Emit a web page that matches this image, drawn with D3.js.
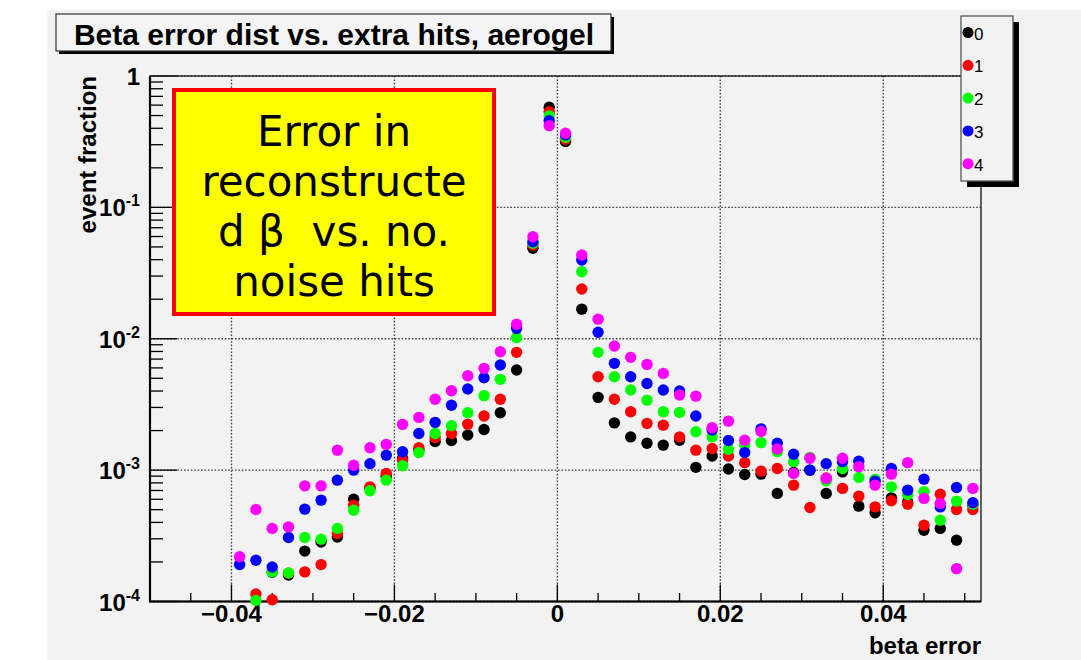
<!DOCTYPE html>
<html>
<head>
<meta charset="utf-8">
<script src="https://cdn.jsdelivr.net/npm/d3@7"></script>
<style>
  html, body { margin: 0; padding: 0; background: #fff; }
  svg { display: block; }
  text { font-family: "Liberation Sans", Arial, sans-serif; }
  text.note { font-family: "DejaVu Sans", sans-serif; white-space: pre; }
</style>
</head>
<body>
<div id="chart"></div>
<script>
// bin centres of the beta error histogram
const binCenters = [-0.039, -0.037, -0.035, -0.033, -0.031, -0.029, -0.027, -0.025, -0.023, -0.021,
    -0.019, -0.017, -0.015, -0.013, -0.011, -0.009, -0.007, -0.005, -0.003, -0.001,
    0.001, 0.003, 0.005, 0.007, 0.009, 0.011, 0.013, 0.015, 0.017, 0.019,
    0.021, 0.023, 0.025, 0.027, 0.029, 0.031, 0.033, 0.035, 0.037, 0.039,
    0.041, 0.043, 0.045, 0.047, 0.049, 0.051];

// event fraction per bin, one array per number of extra hits
const hits0 = [null, null, 1.67e-4, 1.59e-4, 2.42e-4, 2.84e-4, 3.1e-4, 6.0e-4, 7.3e-4, 9.0e-4,
    1.23e-3, 1.42e-3, 1.65e-3, 1.68e-3, 1.85e-3, 2.04e-3, 2.73e-3, 5.78e-3, 4.88e-2, 0.578,
    0.317, 1.68e-2, 3.58e-3, 2.29e-3, 1.79e-3, 1.60e-3, 1.55e-3, 1.69e-3, 1.05e-3, 1.28e-3,
    1.02e-3, 9.27e-4, 9.32e-4, 6.65e-4, 9.6e-4, 1.0e-3, 6.65e-4, 9.7e-4, 5.32e-4, 4.73e-4,
    6.15e-4, 5.7e-4, 3.49e-4, 3.6e-4, 2.93e-4, 5.4e-4];
const hits1 = [null, 1.14e-4, 1.03e-4, 1.64e-4, 1.68e-4, 1.91e-4, 3.30e-4, 5.41e-4, 7.46e-4, 9.44e-4,
    1.19e-3, 1.48e-3, 1.77e-3, 1.90e-3, 2.24e-3, 2.58e-3, 3.46e-3, 7.88e-3, 5.17e-2, 0.535,
    0.330, 2.39e-2, 5.14e-3, 3.46e-3, 2.78e-3, 2.27e-3, 2.20e-3, 1.79e-3, 1.42e-3, 1.46e-3,
    1.28e-3, 1.14e-3, 9.83e-4, 1.03e-3, 7.69e-4, 5.2e-4, 8.7e-4, 7.26e-4, 6.34e-4, 5.25e-4,
    5.84e-4, 5.51e-4, 3.81e-4, 6.56e-4, 5.02e-4, 5.02e-4];
const hits2 = [null, 1.02e-4, 1.68e-4, 1.65e-4, 3.07e-4, 2.98e-4, 3.60e-4, 4.96e-4, 6.96e-4, 8.39e-4,
    1.08e-3, 1.36e-3, 1.90e-3, 2.18e-3, 2.73e-3, 3.68e-3, 4.91e-3, 1.02e-2, 5.33e-2, 0.497,
    0.342, 3.24e-2, 7.88e-3, 5.14e-3, 4.07e-3, 3.41e-3, 2.78e-3, 2.75e-3, 1.96e-3, 1.79e-3,
    1.44e-3, 1.55e-3, 1.62e-3, 1.38e-3, 1.16e-3, 1.25e-3, 8.29e-4, 1.03e-3, 8.8e-4, 8.5e-4,
    7.46e-4, 6.53e-4, 6.84e-4, 4.16e-4, 5.81e-4, 5.5e-4];
const hits3 = [1.91e-4, 2.06e-4, 1.83e-4, 3.07e-4, 5.05e-4, 5.91e-4, 8.39e-4, 1.0e-3, 1.12e-3, 1.30e-3,
    1.38e-3, 1.90e-3, 2.31e-3, 3.12e-3, 4.14e-3, 5.05e-3, 6.31e-3, 1.20e-2, 5.48e-2, 0.457,
    0.356, 3.98e-2, 1.12e-2, 6.50e-3, 5.14e-3, 4.57e-3, 4.07e-3, 4.0e-3, 2.58e-3, 2.02e-3,
    1.68e-3, 1.36e-3, 2.06e-3, 1.60e-3, 1.32e-3, 1.0e-3, 1.12e-3, 1.16e-3, 1.17e-3, 8.24e-4,
    1.03e-3, 7.04e-4, 8.54e-4, 5.25e-4, 7.38e-4, 5.64e-4];
const hits4 = [2.19e-4, 5.02e-4, 3.60e-4, 3.70e-4, 7.59e-4, 7.59e-4, 1.42e-3, 1.09e-3, 1.48e-3, 1.57e-3,
    2.23e-3, 2.52e-3, 3.46e-3, 4.02e-3, 5.23e-3, 5.95e-3, 7.96e-3, 1.29e-2, 5.98e-2, 0.419,
    0.367, 4.34e-2, 1.41e-2, 8.80e-3, 7.22e-3, 6.38e-3, 5.45e-3, 3.73e-3, 3.66e-3, 2.10e-3,
    2.36e-3, 1.69e-3, 1.97e-3, 1.45e-3, 9.44e-4, 1.23e-3, 8.65e-4, 1.23e-3, 1.06e-3, 7.69e-4,
    9.32e-4, 1.14e-3, 6.09e-4, 5.58e-4, 1.78e-4, 7.26e-4];

const seriesNames = ['0', '1', '2', '3', '4'];
const seriesColors = ['#000000', '#ff0000', '#00ff00', '#0000ff', '#ff00ff'];

const xTickValues = [-0.04, -0.02, 0, 0.02, 0.04];
const xTickLabels = ['\u22120.04', '\u22120.02', '0', '0.02', '0.04'];
const yTickValues = [1, 0.1, 0.01, 0.001, 0.0001];
const yTickExponents = ['', '-1', '-2', '-3', '-4'];

const titleText = 'Beta error dist vs. extra hits, aerogel';
const xTitle = 'beta error';
const yTitle = 'event fraction';
const noteLines = ['Error in', 'reconstructe', 'd \u03b2  vs. no.', 'noise hits'];

(function () {
    const width = 1081;
    const height = 660;
    const frame = { left: 150, right: 981, top: 76, bottom: 601.5 };

    const svg = d3.select('#chart').append('svg')
        .attr('width', width)
        .attr('height', height);

    const xScale = d3.scaleLinear().domain([-0.05, 0.052]).range([frame.left, frame.right]);
    const yScale = d3.scaleLog().domain([1e-4, 1]).range([frame.bottom, frame.top]);

    // canvas
    svg.append('rect').attr('x', 47).attr('y', 10)
        .attr('width', width - 47).attr('height', height - 10)
        .attr('fill', '#f2f2f2');

    // grid (dotted, at major ticks)
    const grid = svg.append('g').attr('class', 'grid')
        .attr('stroke', '#444').attr('stroke-width', 1.4)
        .attr('stroke-dasharray', '1.6,1.8');
    grid.selectAll('line.gx').data(xTickValues).enter().append('line')
        .attr('x1', d => xScale(d)).attr('x2', d => xScale(d))
        .attr('y1', frame.top).attr('y2', frame.bottom);
    grid.selectAll('line.gy').data(yTickValues).enter().append('line')
        .attr('x1', frame.left).attr('x2', frame.right)
        .attr('y1', d => yScale(d)).attr('y2', d => yScale(d));

    // ticks, drawn inside the frame like ROOT does
    const ticks = svg.append('g').attr('stroke', '#000').attr('stroke-width', 1.3);
    const xMinor = d3.range(-0.045, 0.0501, 0.005).filter(v => !xTickValues.some(t => Math.abs(t - v) < 1e-6));
    ticks.selectAll('line.xmaj').data(xTickValues).enter().append('line')
        .attr('x1', d => xScale(d)).attr('x2', d => xScale(d))
        .attr('y1', frame.bottom).attr('y2', frame.bottom - 17);
    ticks.selectAll('line.xmin').data(xMinor).enter().append('line')
        .attr('x1', d => xScale(d)).attr('x2', d => xScale(d))
        .attr('y1', frame.bottom).attr('y2', frame.bottom - 8.5);

    const yMinor = [];
    [1e-4, 1e-3, 1e-2, 1e-1].forEach(dec => {
        for (let m = 2; m <= 9; m++) yMinor.push(dec * m);
    });
    ticks.selectAll('line.ymaj').data(yTickValues).enter().append('line')
        .attr('x1', frame.left).attr('x2', frame.left + 27)
        .attr('y1', d => yScale(d)).attr('y2', d => yScale(d));
    ticks.selectAll('line.ymin').data(yMinor).enter().append('line')
        .attr('x1', frame.left).attr('x2', frame.left + 13)
        .attr('y1', d => yScale(d)).attr('y2', d => yScale(d));

    // frame
    svg.append('rect')
        .attr('x', frame.left).attr('y', frame.top)
        .attr('width', frame.right - frame.left).attr('height', frame.bottom - frame.top)
        .attr('fill', 'none').attr('stroke', '#222').attr('stroke-width', 1.4);
    svg.append('path')
        .attr('d', `M${frame.left},${frame.top}V${frame.bottom}H${frame.right}`)
        .attr('fill', 'none').attr('stroke', '#000').attr('stroke-width', 2.2);

    // tick labels
    svg.append('g').selectAll('text').data(xTickValues).enter().append('text')
        .attr('x', d => xScale(d)).attr('y', 622)
        .attr('text-anchor', 'middle')
        .attr('font-size', 24).attr('font-weight', 'bold')
        .text((d, i) => xTickLabels[i]);

    const yLab = svg.append('g').selectAll('text').data(yTickValues).enter().append('text')
        .attr('x', 140).attr('y', d => yScale(d) + 9)
        .attr('text-anchor', 'end')
        .attr('font-size', 24).attr('font-weight', 'bold');
    yLab.each(function (d, i) {
        const t = d3.select(this);
        if (yTickExponents[i] === '') {
            t.text('1');
        } else {
            t.append('tspan').text('10');
            t.append('tspan').attr('dy', -10).attr('font-size', 16).text(yTickExponents[i]);
        }
    });

    // axis titles
    svg.append('text')
        .attr('x', frame.right).attr('y', 654)
        .attr('text-anchor', 'end')
        .attr('font-size', 24).attr('font-weight', 'bold')
        .text(xTitle);
    svg.append('text')
        .attr('transform', `translate(96,${frame.top}) rotate(-90)`)
        .attr('text-anchor', 'end')
        .attr('font-size', 24).attr('font-weight', 'bold')
        .text(yTitle);

    // markers: series 0 first, higher hit counts drawn on top
    const series = [hits0, hits1, hits2, hits3, hits4];
    const pointsLayer = svg.append('g').attr('class', 'points');
    series.forEach((vals, s) => {
        const pts = binCenters.map((x, i) => ({ x: x, y: vals[i] })).filter(p => p.y != null);
        pointsLayer.append('g').selectAll('circle').data(pts).enter().append('circle')
            .attr('cx', d => xScale(d.x))
            .attr('cy', d => yScale(d.y))
            .attr('r', 5.7)
            .attr('fill', seriesColors[s]);
    });

    // yellow note box
    svg.append('rect')
        .attr('x', 174).attr('y', 90).attr('width', 320).attr('height', 224)
        .attr('fill', '#ffff00').attr('stroke', '#ff0000').attr('stroke-width', 4);
    svg.append('g').selectAll('text').data(noteLines).enter().append('text')
        .attr('class', 'note')
        .attr('x', 334).attr('y', (d, i) => 146 + i * 50)
        .attr('text-anchor', 'middle')
        .attr('font-size', 42)
        .text(d => d);

    // title box with shadow
    svg.append('rect').attr('x', 59).attr('y', 17).attr('width', 555).attr('height', 37).attr('fill', '#000');
    svg.append('rect').attr('x', 56).attr('y', 14).attr('width', 555).attr('height', 37)
        .attr('fill', '#f4f4f4').attr('stroke', '#333').attr('stroke-width', 1.2);
    svg.append('text')
        .attr('x', 334).attr('y', 45)
        .attr('text-anchor', 'middle')
        .attr('font-size', 30).attr('font-weight', 'bold')
        .text(titleText);

    // legend with shadow
    svg.append('rect').attr('x', 967).attr('y', 22).attr('width', 52).attr('height', 165).attr('fill', '#000');
    svg.append('rect').attr('x', 961).attr('y', 16).attr('width', 52).attr('height', 165)
        .attr('fill', '#f2f2f2').attr('stroke', '#555').attr('stroke-width', 1.3);
    const leg = svg.append('g').selectAll('g').data(seriesNames).enter().append('g')
        .attr('transform', (d, i) => `translate(968,${32.5 + i * 32.8})`);
    leg.append('circle').attr('r', 5.5).attr('fill', (d, i) => seriesColors[i]);
    leg.append('text').attr('x', 6).attr('y', 7)
        .attr('font-size', 17)
        .text(d => d);
})();
</script>
</body>
</html>
